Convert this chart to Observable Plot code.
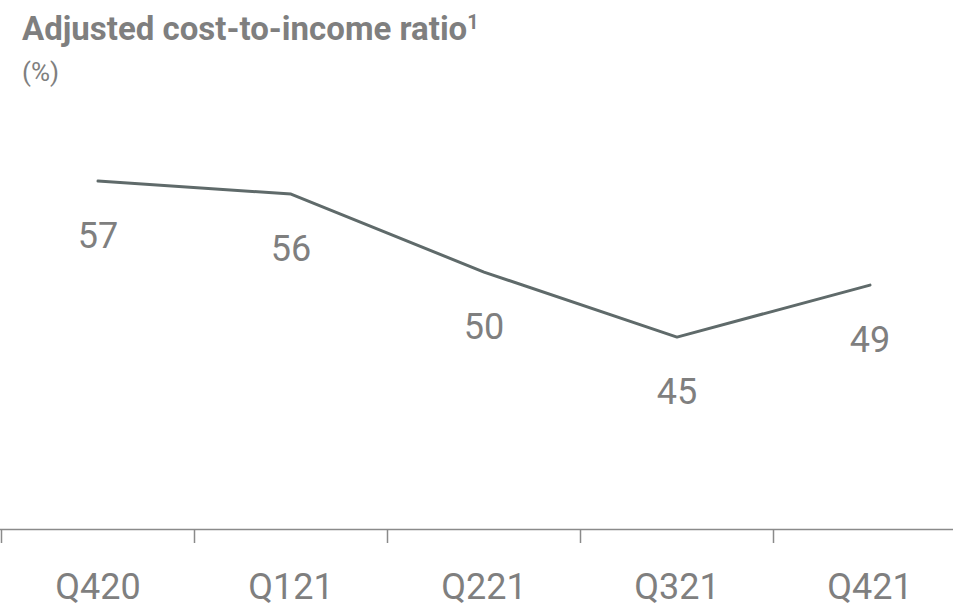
<!DOCTYPE html>
<html><head><meta charset="utf-8">
<script src="https://cdn.jsdelivr.net/npm/d3@7"></script>
<script src="https://cdn.jsdelivr.net/npm/@observablehq/plot@0.6"></script>
<style>
body{margin:0;background:#fff;font-family:Roboto,sans-serif;}
#head{height:100px;position:relative;}
#title{position:absolute;left:22px;top:12px;font-size:33px;font-weight:700;color:#7f7f7f;line-height:34px;white-space:nowrap;}
#title sup{font-size:0.6em;line-height:0;vertical-align:0.55em;}
#sub{position:absolute;left:22px;top:57px;font-size:26px;color:#7f7f7f;line-height:30px;}
</style></head><body>
<div id="head"><div id="title">Adjusted cost-to-income ratio<sup>1</sup></div><div id="sub">(%)</div></div>
<div id="chart"></div>
<script>
const quarters = ["Q420","Q121","Q221","Q321","Q421"];
const ratios = [57,56,50,45,49];
const boundaries = [-0.5,0.5,1.5,2.5,3.5];
const data = quarters.map((q,i)=>({i, q, v: ratios[i]}));
const grey = "#7f7f7f";
const plot = Plot.plot({
  width:953, height:503, marginLeft:0, marginRight:0, marginTop:0, marginBottom:74,
  style:{fontFamily:"Roboto, sans-serif", background:"#fff", color:grey, overflow:"visible"},
  x:{type:"linear", domain:[-0.5, 4.5], range:[1,966], label:null},
  y:{domain:[30.2, 63.2], axis:null},
  marks:[
    Plot.frame({anchor:"bottom", stroke:"#8a8a8a", strokeWidth:1.5}),
    Plot.axisX({ticks: boundaries, tickSize:14, tickFormat: () => "", label:null, stroke:"#8a8a8a", strokeWidth:1.5, strokeOpacity:1}),
    Plot.axisX({ticks: data.map(d=>d.i), tickFormat: i => quarters[i], label:null, tickSize:0, tickPadding:44, fontSize:36, fill:grey}),
    Plot.line(data, {x:"i", y:"v", stroke:"#5f6a6a", strokeWidth:3}),
    Plot.text(data, {x:"i", y:"v", text: d=>String(d.v), dy:55, fontSize:36, fill:grey})
  ]
});
document.getElementById("chart").appendChild(plot);
</script>
</body></html>
